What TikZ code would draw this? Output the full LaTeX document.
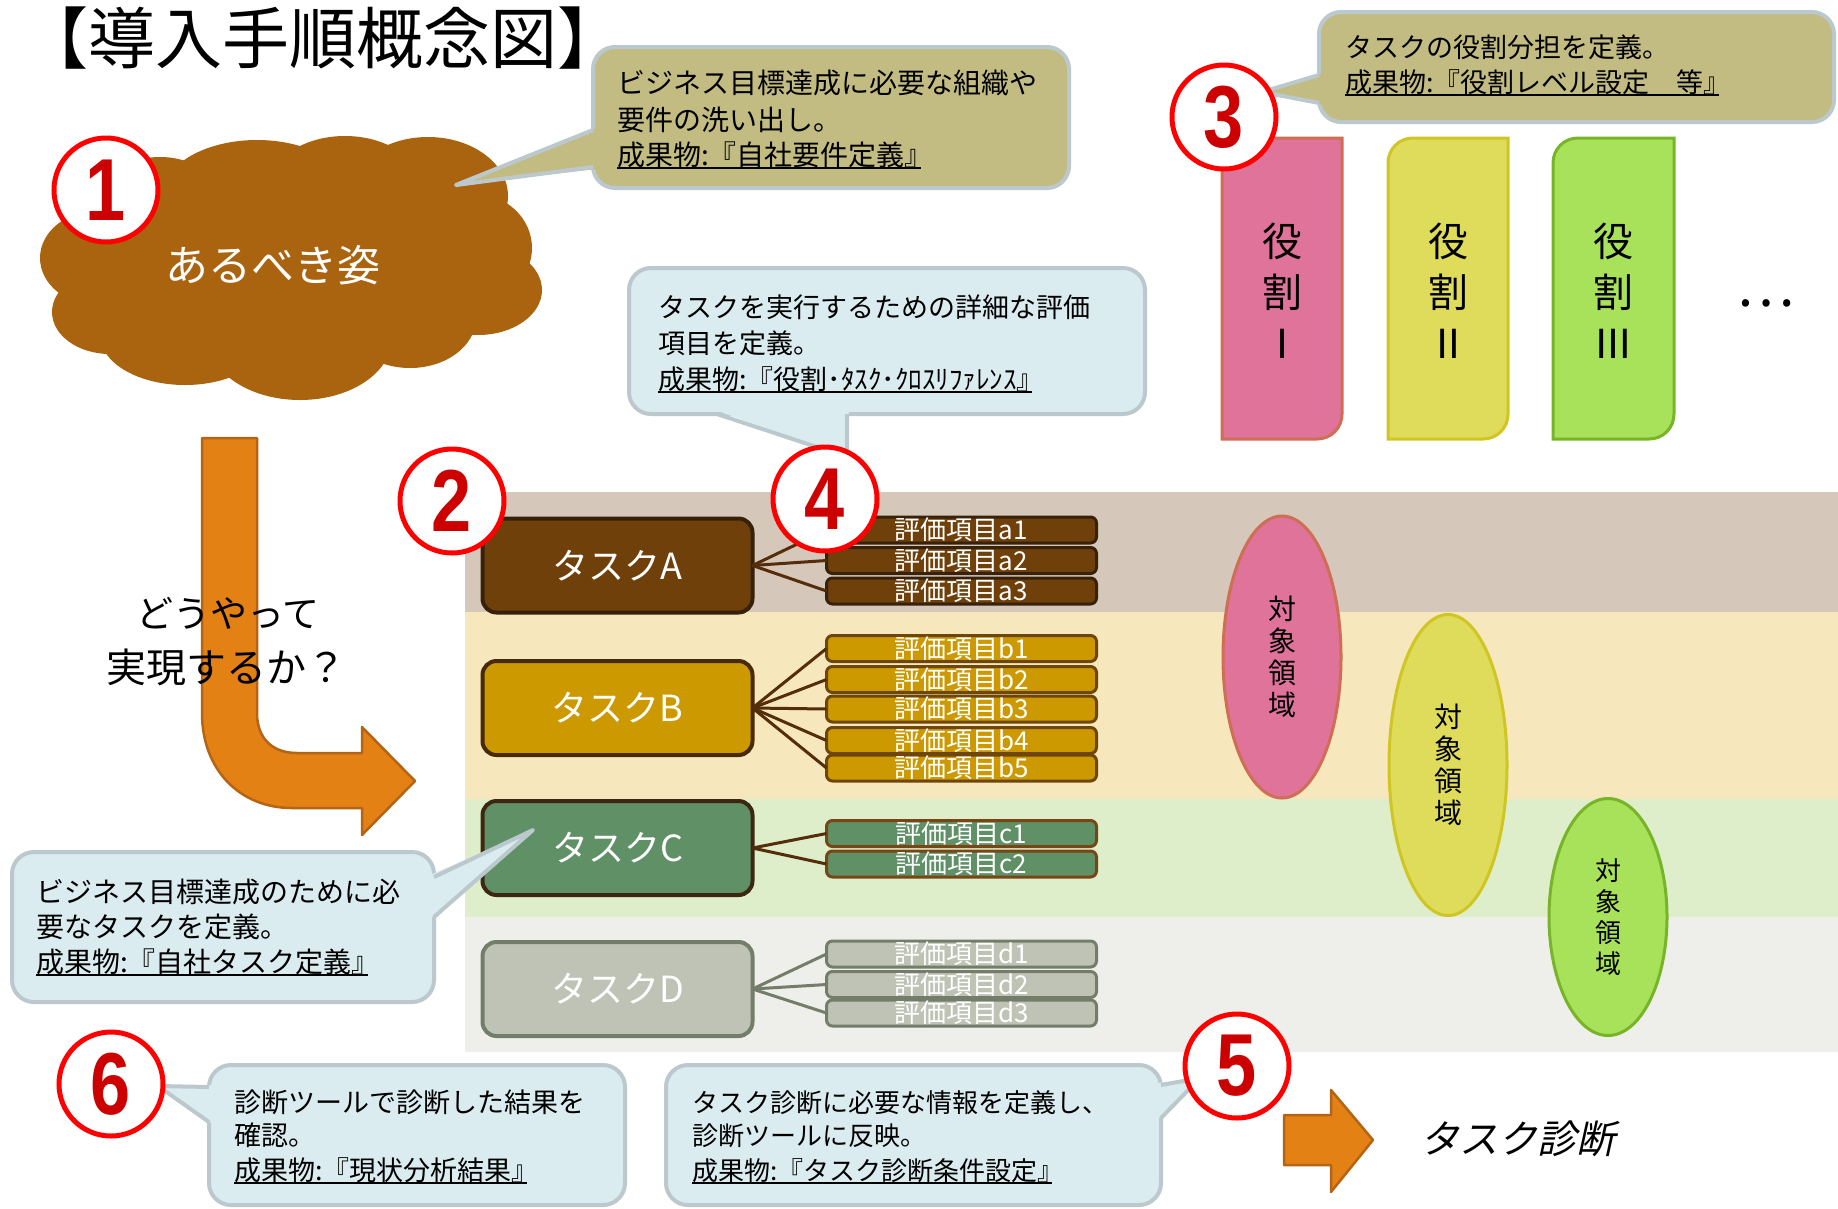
\documentclass[tikz,border=0pt]{standalone}
\usepackage{fontspec}
\setmainfont{Noto Sans CJK JP}
\newfontfamily\numfont{Liberation Sans}[FakeStretch=0.82]
\newfontfamily\slfont{Noto Sans CJK JP}[FakeSlant=0.22]
\usetikzlibrary{shapes.geometric}
\newcommand\fsz[1]{\fontsize{#1pt}{#1pt}\selectfont}
\newsavebox\ulbox
\newcommand\myul[1]{\sbox\ulbox{#1}\rlap{\rule[-4pt]{\dimexpr\wd\ulbox-0.42em\relax}{2.5pt}}\usebox\ulbox}
\definecolor{tanc}{RGB}{195,188,130}
\definecolor{bordc}{RGB}{187,201,206}
\definecolor{lblue}{RGB}{219,236,240}
\definecolor{cloudc}{RGB}{170,100,16}
\definecolor{orangec}{RGB}{228,129,20}
\definecolor{orangeb}{RGB}{180,100,20}
\definecolor{taskA}{RGB}{112,64,10}
\definecolor{taskAb}{RGB}{55,33,10}
\definecolor{taskB}{RGB}{204,153,0}
\definecolor{taskBb}{RGB}{70,42,10}
\definecolor{itemBb}{RGB}{110,70,10}
\definecolor{taskC}{RGB}{96,144,102}
\definecolor{taskCb}{RGB}{60,40,18}
\definecolor{itemCb}{RGB}{120,70,20}
\definecolor{taskD}{RGB}{191,195,181}
\definecolor{taskDb}{RGB}{115,125,105}
\definecolor{connc}{RGB}{85,45,10}
\definecolor{pinkc}{RGB}{224,115,153}
\definecolor{pinkb}{RGB}{205,110,85}
\definecolor{yelc}{RGB}{222,220,90}
\definecolor{yelb}{RGB}{208,198,35}
\definecolor{grnc}{RGB}{168,225,90}
\definecolor{grnb}{RGB}{120,180,40}
\definecolor{numred}{RGB}{204,0,0}
\definecolor{bandA}{RGB}{213,199,185}
\definecolor{bandB}{RGB}{246,231,188}
\definecolor{bandC}{RGB}{222,238,203}
\definecolor{bandD}{RGB}{238,239,234}
\begin{document}
\begin{tikzpicture}[x=1pt,y=-1pt,
  every node/.style={inner sep=0pt,outer sep=0pt},
  cline/.style={anchor=base west,font=\fsz{27}},
  tanbox/.style={fill=tanc,draw=bordc,line width=4,rounded corners=22},
  bluebox/.style={fill=lblue,draw=bordc,line width=4,rounded corners=22},
  ptr/.style={draw=bordc,line width=4,line join=round},
  numc/.style={circle,draw=red,line width=5,fill=white,minimum size=104,text=numred,font=\numfont\bfseries\fsz{88}},
  task/.style={rectangle,rounded corners=14,line width=4,minimum width=270,minimum height=94,text=white,font=\fsz{36}},
  item/.style={rectangle,rounded corners=6,line width=3,minimum width=270,minimum height=26,text=white,font=\fsz{26}},
  conn/.style={draw=connc,line width=3},
  area/.style={ellipse,line width=3,align=center,font=\fontsize{28pt}{32pt}\selectfont},
  role/.style={align=center,font=\fontsize{40pt}{51pt}\selectfont},
  blockarrow/.style={fill=orangec,draw=orangeb,line width=2.5,line join=round}
]
\useasboundingbox (0,0) rectangle (1838,1208);
\fill[white] (0,0) rectangle (1838,1208);

% background bands
\fill[bandA] (465,492) rectangle (1838,612);
\fill[bandB] (465,612) rectangle (1838,799);
\fill[bandC] (465,799) rectangle (1838,917);
\fill[bandD] (465,917) rectangle (1838,1052);

% cloud
\begin{scope}[fill=cloudc]
\fill (290,265) ellipse [x radius=190pt,y radius=95pt];
\fill (160,212) ellipse [x radius=68pt,y radius=55pt];
\fill (257,196) ellipse [x radius=95pt,y radius=56pt];
\fill (345,186) ellipse [x radius=75pt,y radius=50pt];
\fill (428,196) ellipse [x radius=80pt,y radius=59pt];
\fill (472,248) ellipse [x radius=60pt,y radius=55pt];
\fill (478,290) ellipse [x radius=64pt,y radius=45pt];
\fill (410,318) ellipse [x radius=66pt,y radius=50pt];
\fill (300,338) ellipse [x radius=92pt,y radius=62pt];
\fill (185,335) ellipse [x radius=85pt,y radius=50pt];
\fill (110,312) ellipse [x radius=58pt,y radius=42pt];
\fill (100,258) ellipse [x radius=60pt,y radius=48pt];
\end{scope}
\node[font=\fsz{43},text=white] (ideal) at (273,265) {あるべき姿};

% title
\node[font=\fsz{67}] (title) at (323,38) {【導入手順概念図】};

% callout 1
\filldraw[tanbox] (593,47) rectangle (1069,188);
\fill[tanc] (597,128) -- (456,185) -- (597,169) -- cycle;
\draw[ptr] (593,130) -- (456,185) -- (593,167);
\node[cline,font=\fsz{28}] (t1a) at (617,93) {ビジネス目標達成に必要な組織や};
\node[cline,font=\fsz{28}] (t1b) at (617,130) {要件の洗い出し。};
\node[cline,font=\fsz{28}] (t1c) at (617,165) {\myul{成果物:『自社要件定義』}};
\node[numc] (n1) at (106,190) {1};

% L arrow
\filldraw[blockarrow] (202,438) -- (257,438) -- (257,713) .. controls (257,738) and (272,753) .. (297,753) -- (362,753) -- (362,727) -- (415,781) -- (362,835) -- (362,808) -- (292,808) .. controls (240,808) and (202,770) .. (202,713) -- cycle;
\node[font=\fsz{37}] (how1) at (228,613) {どうやって};
\node[font=\fsz{40}] (how2) at (226,667) {実現するか？};

% tasks
\node[task,fill=taskA,draw=taskAb] (tA) at (617.5,565.5) {タスクA};
\node[task,fill=taskB,draw=taskBb] (tB) at (617.5,708) {タスクB};
\node[task,fill=taskC,draw=taskCb] (tC) at (617.5,848) {タスクC};
\node[task,fill=taskD,draw=taskDb] (tD) at (617.5,989) {タスクD};

% items
\node[item,fill=taskA,draw=taskAb] (a1) at (961.5,530) {評価項目a1};
\node[item,fill=taskA,draw=taskAb] (a2) at (961.5,560.5) {評価項目a2};
\node[item,fill=taskA,draw=taskAb] (a3) at (961.5,591) {評価項目a3};
\node[item,fill=taskB,draw=itemBb] (b1) at (961.5,648.5) {評価項目b1};
\node[item,fill=taskB,draw=itemBb] (b2) at (961.5,679.5) {評価項目b2};
\node[item,fill=taskB,draw=itemBb] (b3) at (961.5,709) {評価項目b3};
\node[item,fill=taskB,draw=itemBb] (b4) at (961.5,740.5) {評価項目b4};
\node[item,fill=taskB,draw=itemBb] (b5) at (961.5,768) {評価項目b5};
\node[item,fill=taskC,draw=itemCb] (c1) at (961.5,833.5) {評価項目c1};
\node[item,fill=taskC,draw=itemCb] (c2) at (961.5,864) {評価項目c2};
\node[item,fill=taskD,draw=taskDb] (d1) at (961.5,954) {評価項目d1};
\node[item,fill=taskD,draw=taskDb] (d2) at (961.5,984.5) {評価項目d2};
\node[item,fill=taskD,draw=taskDb] (d3) at (961.5,1013) {評価項目d3};

% connectors
\foreach \i in {a1,a2,a3} \draw[conn] (tA.east) -- (\i.west);
\foreach \i in {b1,b2,b3,b4,b5} \draw[conn] (tB.east) -- (\i.west);
\foreach \i in {c1,c2} \draw[conn] (tC.east) -- (\i.west);
\foreach \i in {d1,d2,d3} \draw[conn,draw=taskDb] (tD.east) -- (\i.west);

% callout 2
\filldraw[bluebox] (12,852) rectangle (434,1002);
\fill[lblue] (430,875) -- (533,830) -- (430,919) -- cycle;
\draw[ptr] (434,877) -- (533,830) -- (434,917);
\node[cline,font=\fsz{28}] (t2a) at (36,902) {ビジネス目標達成のために必};
\node[cline,font=\fsz{28}] (t2b) at (36,937) {要なタスクを定義。};
\node[cline,font=\fsz{28}] (t2c) at (36,972) {\myul{成果物:『自社タスク定義』}};
\node[numc] (n2) at (452,501) {2};

% callout 4
\filldraw[bluebox] (629,268) rectangle (1145,414);
\fill[lblue] (715,410) -- (847,457) -- (849,410) -- cycle;
\draw[ptr] (717,414) -- (847,457) -- (847,414);
\node[cline] (t4a) at (658,317) {タスクを実行するための詳細な評価};
\node[cline] (t4b) at (658,353) {項目を定義。};
\node[cline] (t4c) at (658,389) {\myul{成果物:『役割･ﾀｽｸ･ｸﾛｽﾘﾌｧﾚﾝｽ』}};
\node[numc] (n4) at (825,499) {4};

% roles
\filldraw[fill=pinkc,draw=pinkb,line width=3] (1222,439) -- (1222,163) .. controls (1222,149) and (1233,138) .. (1247,138) -- (1342,138) -- (1342,414) .. controls (1342,428) and (1331,439) .. (1317,439) -- cycle;
\filldraw[fill=yelc,draw=yelb,line width=3] (1388,439) -- (1388,163) .. controls (1388,149) and (1399,138) .. (1413,138) -- (1508,138) -- (1508,414) .. controls (1508,428) and (1497,439) .. (1483,439) -- cycle;
\filldraw[fill=grnc,draw=grnb,line width=3] (1553,439) -- (1553,163) .. controls (1553,149) and (1564,138) .. (1578,138) -- (1674,138) -- (1674,414) .. controls (1674,428) and (1663,439) .. (1649,439) -- cycle;
\node[role] (r1) at (1282,291) {役\\割\\Ⅰ};
\node[role] (r2) at (1448,291) {役\\割\\Ⅱ};
\node[role] (r3) at (1613,291) {役\\割\\Ⅲ};
\node[font=\fsz{55}] (dots) at (1766,303) {…};

% callout 3
\filldraw[tanbox] (1319,12) rectangle (1834,122);
\fill[tanc] (1323,73) -- (1262,92) -- (1323,105) -- cycle;
\draw[ptr] (1319,75) -- (1262,92) -- (1319,103);
\node[cline] (t3a) at (1345,57) {タスクの役割分担を定義。};
\node[cline] (t3b) at (1345,92) {\myul{成果物:『役割レベル設定　等』}};
\node[numc] (n3) at (1224,117) {3};

% target areas
\node[area,fill=pinkc,draw=pinkb,minimum width=118,minimum height=282] (e1) at (1282,657) {対\\象\\領\\域};
\node[area,fill=yelc,draw=yelb,minimum width=118,minimum height=301] (e2) at (1448,765) {対\\象\\領\\域};
\node[area,fill=grnc,draw=grnb,minimum width=118,minimum height=237,font=\fontsize{26pt}{31pt}\selectfont] (e3) at (1608,917) {対\\象\\領\\域};

% callout 6
\filldraw[bluebox] (209,1065) rectangle (625,1205);
\fill[lblue] (213,1085) -- (158,1086) -- (213,1124) -- cycle;
\draw[ptr] (209,1087) -- (158,1086) -- (209,1122);
\node[cline] (t6a) at (234,1112) {診断ツールで診断した結果を};
\node[cline] (t6b) at (234,1145) {確認。};
\node[cline] (t6c) at (234,1180) {\myul{成果物:『現状分析結果』}};
\node[numc] (n6) at (111,1084) {6};

% callout 5
\filldraw[bluebox] (666,1065) rectangle (1161,1205);
\fill[lblue] (1157,1083) -- (1200,1078) -- (1157,1120) -- cycle;
\draw[ptr] (1161,1085) -- (1200,1078) -- (1161,1118);
\node[cline,font=\fsz{26}] (t5a) at (692,1112) {タスク診断に必要な情報を定義し、};
\node[cline,font=\fsz{26}] (t5b) at (692,1145) {診断ツールに反映。};
\node[cline,font=\fsz{26}] (t5c) at (692,1180) {\myul{成果物:『タスク診断条件設定』}};
\node[numc] (n5) at (1237,1066) {5};

% bottom arrow
\filldraw[blockarrow] (1284,1115) -- (1331,1115) -- (1331,1090) -- (1373,1140) -- (1331,1192) -- (1331,1165) -- (1284,1165) -- cycle;
\node[font=\slfont\fsz{39}] (diag) at (1518,1139) {タスク診断};
\end{tikzpicture}
\end{document}
